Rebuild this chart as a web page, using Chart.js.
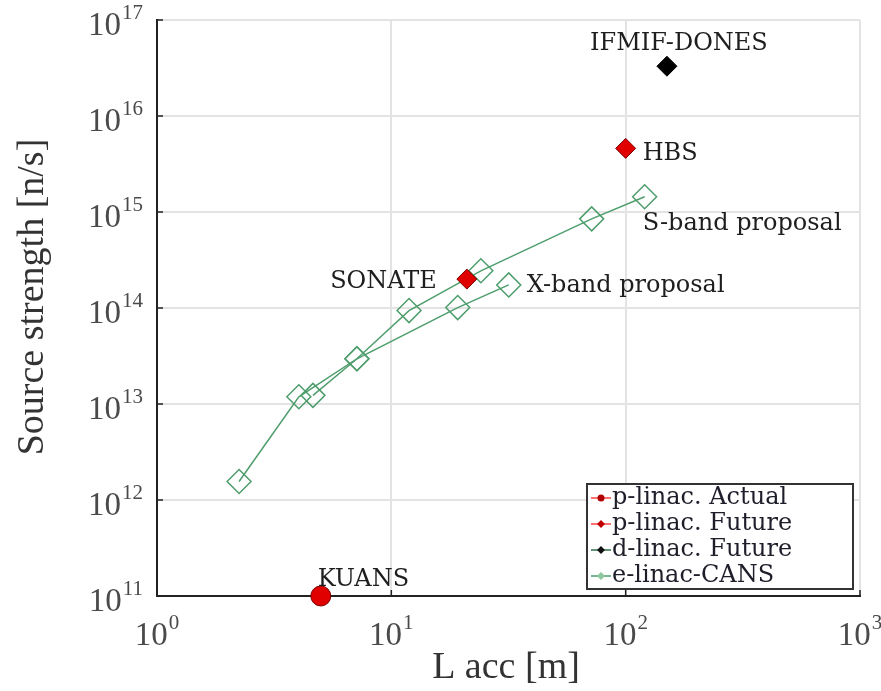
<!DOCTYPE html>
<html>
<head>
<meta charset="utf-8">
<script src="https://cdn.jsdelivr.net/npm/chart.js@4.4.1/dist/chart.umd.min.js"></script>
<style>
  html, body { margin: 0; padding: 0; background: #ffffff; }
  canvas { display: block; }
</style>
</head>
<body>
<canvas id="chart" width="881" height="691"></canvas>
<script>
// Accelerator length L acc (m) against neutron source strength (n/s)
const kuansLength = [5];
const kuansStrength = [1.0e11];
const pFutureLength = [21, 100];
const pFutureStrength = [2.0e14, 4.6e15];
const dFutureLength = [150];
const dFutureStrength = [3.3e16];
const sBandLength = [2.24, 4.03, 7.13, 11.9, 24.1, 71.6, 120.5];
const sBandStrength = [1.56e12, 1.19e13, 2.96e13, 9.4e13, 2.44e14, 8.48e14, 1.44e15];
const xBandLength = [4.63, 7.13, 19.2, 31.7];
const xBandStrength = [1.23e13, 2.96e13, 1.01e14, 1.74e14];

const xTickValues = [1, 10, 100, 1000];
const yTickValues = [1e11, 1e12, 1e13, 1e14, 1e15, 1e16, 1e17];
const legendLabels = ['p-linac. Actual', 'p-linac. Future', 'd-linac. Future', 'e-linac-CANS'];
const facilityNames = ['KUANS', 'SONATE', 'HBS', 'IFMIF-DONES', 'S-band proposal', 'X-band proposal'];
const xTitle = 'L acc [m]';
const yTitle = 'Source strength [n/s]';

const pts = (xs, ys) => xs.map((x, i) => ({ x, y: ys[i] }));

const RED = '#e00000';
const RED_EDGE = '#7a0000';
const GREEN = '#4e9d6c';
const TICK_FONT = '"Liberation Serif", "DejaVu Serif", serif';
const NOTE_FONT = '"DejaVu Serif", serif';

// Facility labels: anchor point plus text offset
const notes = [
  { text: facilityNames[0], at: () => [kuansLength[0], kuansStrength[0]], dx: -3, dy: -16, align: 'left' },
  { text: facilityNames[1], at: () => [pFutureLength[0], pFutureStrength[0]], dx: -30, dy: 3, align: 'right' },
  { text: facilityNames[2], at: () => [pFutureLength[1], pFutureStrength[1]], dx: 17, dy: 5, align: 'left' },
  { text: facilityNames[3], at: () => [dFutureLength[0], dFutureStrength[0]], dx: 12, dy: -22, align: 'center' },
  { text: facilityNames[4], at: () => [sBandLength[sBandLength.length - 1], sBandStrength[sBandStrength.length - 1]], dx: -2, dy: 27, align: 'left' },
  { text: facilityNames[5], at: () => [xBandLength[xBandLength.length - 1], xBandStrength[xBandStrength.length - 1]], dx: 18, dy: 1, align: 'left' }
];

function powerLabel(ctx, exp, px, py, anchor) {
  const base = '33px ' + TICK_FONT;
  const sup = '21px ' + TICK_FONT;
  ctx.font = base;
  const bw = ctx.measureText('10').width;
  ctx.font = sup;
  const ew = ctx.measureText(String(exp)).width;
  const left = anchor === 'right' ? px - bw - ew - 1 : px - (bw + ew + 1) / 2;
  ctx.textAlign = 'left';
  ctx.textBaseline = 'middle';
  ctx.fillStyle = '#4a4a4a';
  ctx.font = base;
  ctx.fillText('10', left, py + 6);
  ctx.font = sup;
  ctx.fillText(String(exp), left + bw + 1, py - 7);
}

function legendMarker(ctx, kind, x, y) {
  ctx.save();
  if (kind === 0) {
    ctx.strokeStyle = '#ff4040'; ctx.fillStyle = '#b00000';
  } else if (kind === 1) {
    ctx.strokeStyle = '#ff4040'; ctx.fillStyle = '#c00000';
  } else if (kind === 2) {
    ctx.strokeStyle = '#2f6f4a'; ctx.fillStyle = '#111111';
  } else {
    ctx.strokeStyle = GREEN; ctx.fillStyle = '#8cc7a0';
  }
  ctx.lineWidth = 1.5;
  ctx.beginPath(); ctx.moveTo(x - 10, y); ctx.lineTo(x + 10, y); ctx.stroke();
  ctx.beginPath();
  if (kind === 0) {
    ctx.arc(x, y, 3.5, 0, Math.PI * 2);
  } else {
    ctx.moveTo(x, y - 4); ctx.lineTo(x + 4, y); ctx.lineTo(x, y + 4); ctx.lineTo(x - 4, y); ctx.closePath();
  }
  ctx.fill();
  ctx.restore();
}

const decorations = {
  id: 'decorations',
  afterDatasetsDraw(chart) {
    const { ctx, chartArea: a, scales: { x, y } } = chart;
    ctx.save();

    // inward tick marks on the left and bottom axes
    ctx.strokeStyle = '#222';
    ctx.lineWidth = 1.5;
    y.ticks.forEach(t => {
      const py = y.getPixelForValue(t.value);
      ctx.beginPath(); ctx.moveTo(a.left, py); ctx.lineTo(a.left + 6, py); ctx.stroke();
    });
    x.ticks.forEach(t => {
      const px = x.getPixelForValue(t.value);
      ctx.beginPath(); ctx.moveTo(px, a.bottom); ctx.lineTo(px, a.bottom - 6); ctx.stroke();
    });

    // power-of-ten tick labels
    y.ticks.forEach(t => {
      powerLabel(ctx, Math.round(Math.log10(t.value)), a.left - 14, y.getPixelForValue(t.value), 'right');
    });
    x.ticks.forEach(t => {
      powerLabel(ctx, Math.round(Math.log10(t.value)), x.getPixelForValue(t.value), a.bottom + 34, 'center');
    });

    // axis titles
    ctx.fillStyle = '#333';
    ctx.font = '38px ' + TICK_FONT;
    ctx.textAlign = 'center';
    ctx.textBaseline = 'middle';
    ctx.fillText(xTitle, 506, a.bottom + 72);
    ctx.save();
    ctx.translate(33, 297);
    ctx.rotate(-Math.PI / 2);
    ctx.fillText(yTitle, 0, 0);
    ctx.restore();

    // facility labels
    ctx.fillStyle = '#1e1e1e';
    ctx.font = '24px ' + NOTE_FONT;
    ctx.textBaseline = 'middle';
    notes.forEach(n => {
      const [vx, vy] = n.at();
      ctx.textAlign = n.align;
      ctx.fillText(n.text, x.getPixelForValue(vx) + n.dx, y.getPixelForValue(vy) + n.dy);
    });

    // legend box in the lower right corner of the plot
    const bx = a.right - 273, by = a.bottom - 112, bw = 266, bh = 105;
    ctx.fillStyle = '#ffffff';
    ctx.fillRect(bx, by, bw, bh);
    ctx.strokeStyle = '#333';
    ctx.lineWidth = 2;
    ctx.strokeRect(bx, by, bw, bh);
    ctx.font = '24px ' + NOTE_FONT;
    ctx.textAlign = 'left';
    ctx.textBaseline = 'middle';
    legendLabels.forEach((label, i) => {
      const ry = by + 14 + i * 26;
      legendMarker(ctx, i, bx + 14, ry);
      ctx.fillStyle = '#1e1e2a';
      ctx.fillText(label, bx + 25, ry);
    });

    ctx.restore();
  }
};

new Chart(document.getElementById('chart'), {
  type: 'scatter',
  data: {
    datasets: [
      {
        label: legendLabels[0],
        data: pts(kuansLength, kuansStrength),
        pointStyle: 'circle',
        pointRadius: 10,
        backgroundColor: RED,
        borderColor: RED_EDGE,
        borderWidth: 1,
        clip: false
      },
      {
        label: legendLabels[1],
        data: pts(pFutureLength, pFutureStrength),
        pointStyle: 'rectRot',
        pointRadius: 10,
        backgroundColor: RED,
        borderColor: RED_EDGE,
        borderWidth: 1,
        clip: false
      },
      {
        label: legendLabels[2],
        data: pts(dFutureLength, dFutureStrength),
        pointStyle: 'rectRot',
        pointRadius: 10,
        backgroundColor: '#000000',
        borderColor: '#000000',
        borderWidth: 1,
        clip: false
      },
      {
        label: legendLabels[3],
        data: pts(sBandLength, sBandStrength),
        showLine: true,
        pointStyle: 'rectRot',
        pointRadius: 12,
        backgroundColor: 'rgba(0,0,0,0)',
        borderColor: GREEN,
        borderWidth: 1.5,
        clip: false
      },
      {
        label: legendLabels[3],
        data: pts(xBandLength, xBandStrength),
        showLine: true,
        pointStyle: 'rectRot',
        pointRadius: 12,
        backgroundColor: 'rgba(0,0,0,0)',
        borderColor: GREEN,
        borderWidth: 1.5,
        clip: false
      }
    ]
  },
  options: {
    responsive: false,
    animation: false,
    devicePixelRatio: 1,
    layout: { padding: { left: 157, right: 21, top: 20, bottom: 95 } },
    plugins: {
      legend: { display: false },
      tooltip: { enabled: false }
    },
    scales: {
      x: {
        type: 'logarithmic',
        min: xTickValues[0],
        max: xTickValues[xTickValues.length - 1],
        afterBuildTicks: s => { s.ticks = xTickValues.map(v => ({ value: v, major: true })); },
        ticks: { display: false },
        title: { display: false },
        grid: { color: '#e3e3e3', lineWidth: 2, drawTicks: false },
        border: { color: '#222', width: 2 }
      },
      y: {
        type: 'logarithmic',
        min: yTickValues[0],
        max: yTickValues[yTickValues.length - 1],
        afterBuildTicks: s => { s.ticks = yTickValues.map(v => ({ value: v, major: true })); },
        ticks: { display: false },
        title: { display: false },
        grid: { color: '#e3e3e3', lineWidth: 2, drawTicks: false },
        border: { color: '#222', width: 2 }
      }
    }
  },
  plugins: [decorations]
});
</script>
</body>
</html>
